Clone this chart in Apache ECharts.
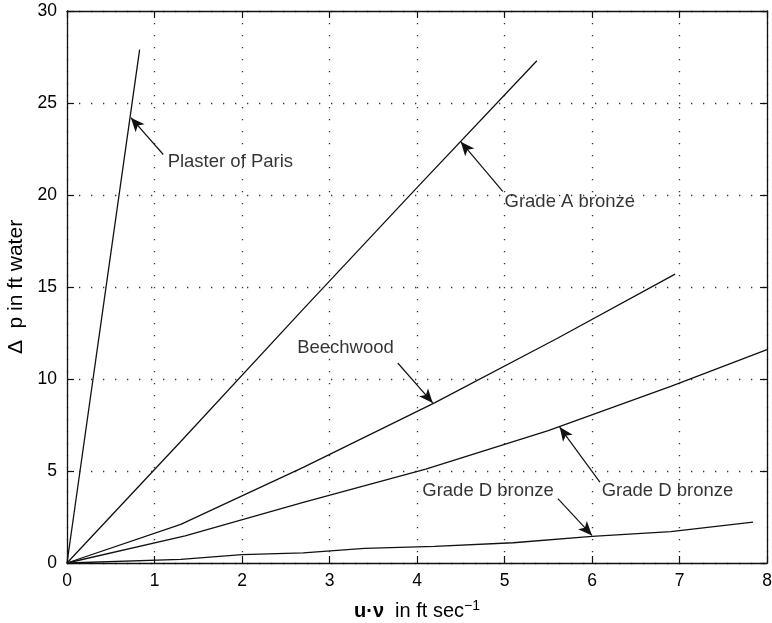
<!DOCTYPE html>
<html>
<head>
<meta charset="utf-8">
<script src="https://cdn.jsdelivr.net/npm/echarts@6/dist/echarts.min.js"></script>
<style>
  html, body { margin: 0; padding: 0; background: #fff; }
  #chart { width: 772px; height: 623px; }
</style>
</head>
<body>
<div id="chart"></div>
<script>
// Pressure drop vs. velocity for several filter media
const plasterOfParis = [[0, 0], [0.83, 27.9]];
const gradeABronze   = [[0, 0], [1.3, 6.6], [2.7, 13.8], [4.0, 20.4], [5.37, 27.3]];
const beechwood      = [[0, 0], [1.3, 2.1], [2.7, 5.2], [4.2, 8.7], [5.6, 12.2], [6.95, 15.7]];
const gradeDUpper    = [[0, 0], [1.35, 1.47], [2.7, 3.3], [4.1, 5.1], [5.5, 7.2], [6.9, 9.6], [8.0, 11.6]];
const gradeDLower    = [[0, 0], [1.3, 0.2], [2.0, 0.45], [2.7, 0.55], [3.4, 0.8], [4.2, 0.9], [5.1, 1.1], [6.0, 1.45], [6.9, 1.7], [7.84, 2.22]];

const xTicks = [0, 1, 2, 3, 4, 5, 6, 7, 8];
const yTicks = [0, 5, 10, 15, 20, 25, 30];

// Callout labels: [text, labelX, labelY]
const labels = [
  ['Plaster of Paris', 1.15, 21.8],
  ['Grade A bronze', 5.0, 19.6],
  ['Beechwood', 2.63, 11.7],
  ['Grade D bronze', 6.11, 3.9],
  ['Grade D bronze', 4.06, 3.9]
];
// Callout arrows: [tailX, tailY, tipX, tipY]
const arrows = [
  [1.10, 22.2, 0.73, 24.2],
  [4.98, 20.2, 4.50, 22.9],
  [3.78, 10.87, 4.18, 8.7],
  [6.09, 4.4, 5.63, 7.39],
  [5.61, 3.5, 6.0, 1.5]
];

const FONT = 'Liberation Sans, Arial, Helvetica, sans-serif';
const INK = '#000';
const chart = echarts.init(document.getElementById('chart'), null, { renderer: 'canvas' });

const gridDots = { show: true, lineStyle: { color: '#333', width: 1.3, type: [1.3, 10.7] } };
const tickStyle = { show: true, inside: true, length: 7, lineStyle: { color: '#111', width: 1.2 } };
// Keep every axis line on its own edge of the plot box
const lineStyleAxis = { show: true, onZero: false, lineStyle: { color: '#111', width: 1.3 } };

function curve(name, data) {
  return {
    name: name, type: 'line', data: data, xAxisIndex: 0, yAxisIndex: 0,
    showSymbol: false, symbol: 'none', animation: false,
    lineStyle: { color: '#111', width: 1.3 }
  };
}

const arrowSeries = {
  type: 'line', data: [], xAxisIndex: 0, yAxisIndex: 0, animation: false,
  markLine: {
    silent: true, animation: false,
    symbol: ['none', 'arrow'], symbolSize: [9, 14],
    label: { show: false },
    lineStyle: { color: '#111', width: 1.2, type: 'solid' },
    data: arrows.map(a => [{ coord: [a[0], a[1]] }, { coord: [a[2], a[3]] }])
  }
};

const labelSeries = {
  type: 'scatter', xAxisIndex: 0, yAxisIndex: 0, animation: false,
  symbolSize: 0, silent: true,
  data: labels.map(l => ({ value: [l[1], l[2]], name: l[0] })),
  label: {
    show: true, position: 'right', distance: 0,
    formatter: p => p.name,
    color: INK, fontFamily: FONT, fontSize: 18.5
  }
};

chart.setOption({
  animation: false,
  backgroundColor: '#fff',
  grid: { left: 67, right: 5, top: 11, bottom: 60, containLabel: false, outerBoundsMode: 'none' },
  xAxis: [
    {
      type: 'value', min: 0, max: 8, interval: 1, position: 'bottom',
      axisLine: lineStyleAxis, axisTick: tickStyle, splitLine: gridDots,
      axisLabel: { color: INK, fontFamily: FONT, fontSize: 17.5, margin: 9,
                   formatter: v => xTicks.includes(v) ? String(v) : '' },
      name: '{b|u·ν}{a|  in ft sec}{s|−1}', nameLocation: 'middle', nameGap: 36,
      nameTextStyle: {
        rich: {
          b: { fontFamily: FONT, fontSize: 20, fontWeight: 'bold', color: INK, verticalAlign: 'bottom', lineHeight: 22 },
          a: { fontFamily: FONT, fontSize: 20, color: INK, verticalAlign: 'bottom', lineHeight: 22 },
          s: { fontFamily: FONT, fontSize: 14, color: INK, verticalAlign: 'top', lineHeight: 22, padding: [0, 0, 9, 0] }
        }
      }
    },
    {
      type: 'value', min: 0, max: 8, interval: 1, position: 'top',
      axisLine: lineStyleAxis, axisTick: tickStyle, splitLine: { show: false },
      axisLabel: { show: false }
    }
  ],
  yAxis: [
    {
      type: 'value', min: 0, max: 30, interval: 5, position: 'left',
      axisLine: lineStyleAxis, axisTick: tickStyle, splitLine: gridDots,
      axisLabel: { color: INK, fontFamily: FONT, fontSize: 17.5, margin: 10,
                   formatter: v => yTicks.includes(v) ? String(v) : '' },
      name: 'Δ  p in ft water', nameLocation: 'middle', nameGap: 37, nameRotate: 90,
      nameTextStyle: { fontFamily: FONT, fontSize: 21, color: INK }
    },
    {
      type: 'value', min: 0, max: 30, interval: 5, position: 'right',
      axisLine: lineStyleAxis, axisTick: tickStyle, splitLine: { show: false },
      axisLabel: { show: false }
    }
  ],
  series: [
    curve('Plaster of Paris', plasterOfParis),
    curve('Grade A bronze', gradeABronze),
    curve('Beechwood', beechwood),
    curve('Grade D bronze (upper)', gradeDUpper),
    curve('Grade D bronze (lower)', gradeDLower),
    arrowSeries,
    labelSeries
  ]
});
</script>
</body>
</html>
